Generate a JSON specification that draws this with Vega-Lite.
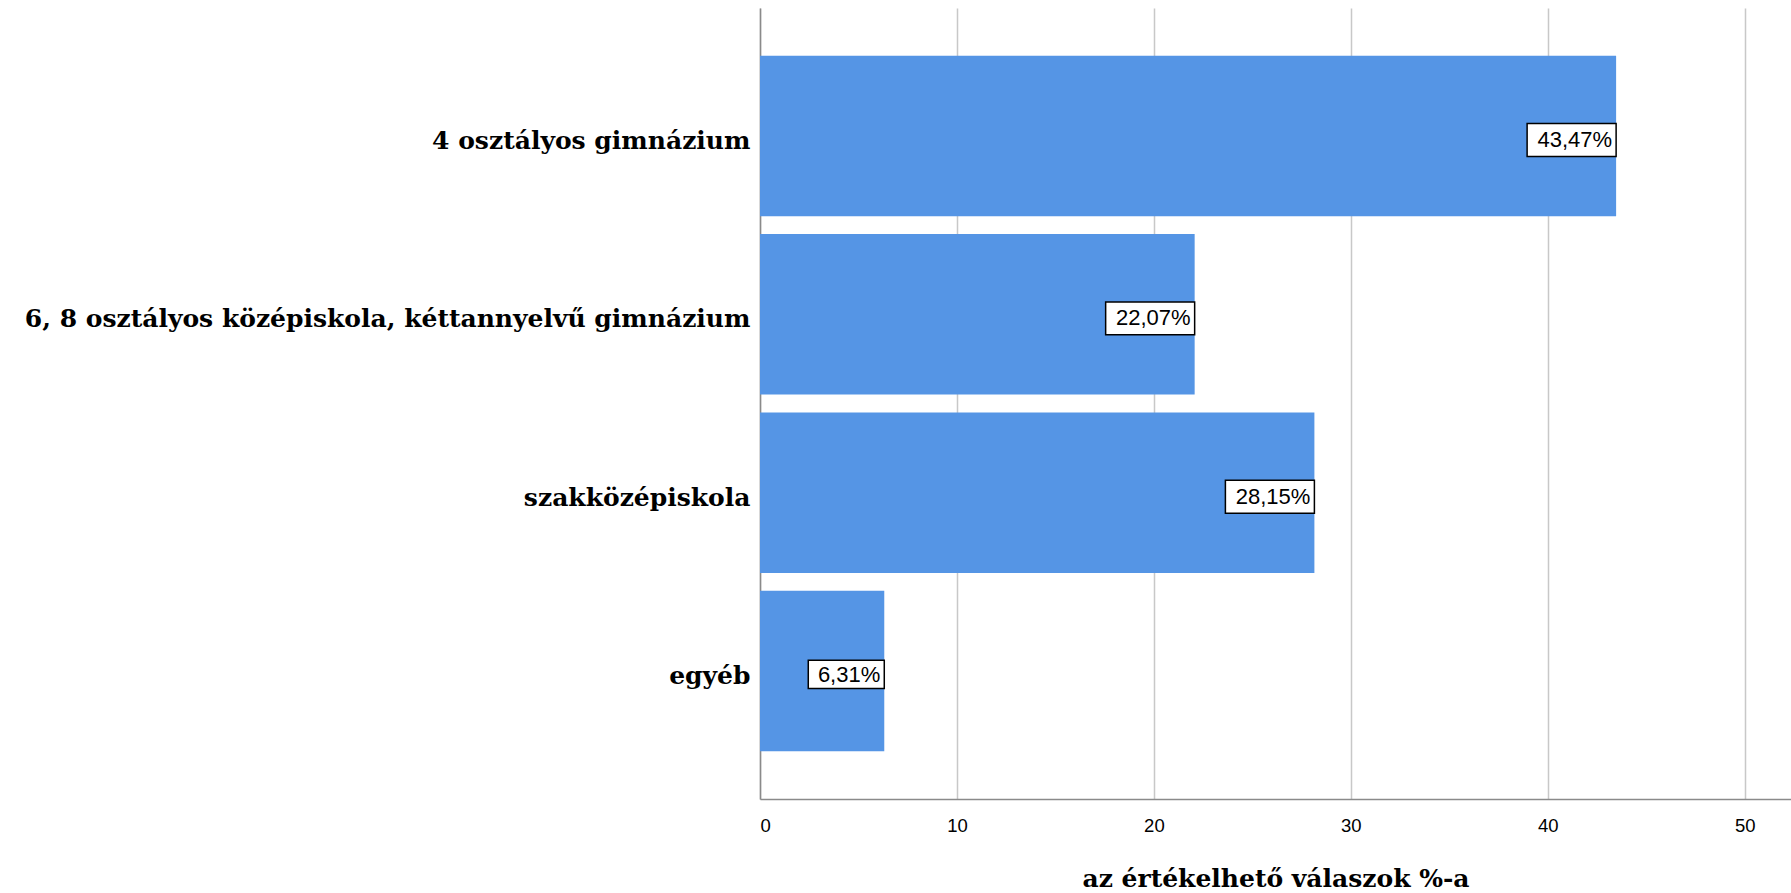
{
  "$schema": "https://vega.github.io/schema/vega-lite/v6.json",
  "autosize": "none",
  "width": 1031,
  "height": 791,
  "padding": {"left": 760, "top": 8, "right": 0, "bottom": 94},
  "background": "white",
  "data": {"values": [
    {"category": "4 osztályos gimnázium", "pct": 43.47, "label": "43,47%"},
    {"category": "6, 8 osztályos középiskola, kéttannyelvű gimnázium", "pct": 22.07, "label": "22,07%"},
    {"category": "szakközépiskola", "pct": 28.15, "label": "28,15%"},
    {"category": "egyéb", "pct": 6.31, "label": "6,31%"}
  ]},
  "encoding": {
    "y": {"field": "category", "type": "nominal", "sort": null,
      "scale": {"paddingInner": 0.1, "paddingOuter": 0.268},
      "axis": {"title": null, "ticks": false, "domain": true, "domainColor": "#8a8a8a", "domainWidth": 1.5,
        "labelFont": "DejaVu Serif", "labelFontWeight": "bold", "labelFontSize": 25, "labelColor": "#000000",
        "labelPadding": 10, "labelLimit": 1000, "labelOffset": 5}},
    "x": {"field": "pct", "type": "quantitative",
      "scale": {"domain": [0, 52.35], "nice": false, "zero": true},
      "axis": {"title": "az értékelhető válaszok %-a", "values": [0, 10, 20, 30, 40, 50], "format": "d",
        "grid": true, "gridColor": "#c8c8c8", "gridWidth": 1.5,
        "ticks": false, "domain": true, "domainColor": "#8a8a8a", "domainWidth": 1.5,
        "labelFont": "Liberation Sans", "labelFontSize": 18.5, "labelColor": "#000000", "labelPadding": 17,
        "titleFont": "DejaVu Serif", "titleFontWeight": "bold", "titleFontSize": 25, "titleColor": "#000000",
        "titlePadding": 32}}
  },
  "layer": [
    {"mark": {"type": "bar", "color": "#5595e5"}},
    {"mark": {"type": "point", "filled": true, "fill": "white", "stroke": "black", "strokeWidth": 1.5, "opacity": 1,
        "shape": "M-1,-0.14H0V0.23H-1Z"},
      "encoding": {"size": {"condition": {"test": "datum.pct < 10", "value": 23104}, "value": 31684}}},
    {"mark": {"type": "text", "align": "right", "baseline": "middle", "dx": -4, "dy": 4, "font": "Liberation Sans", "fontSize": 22, "color": "black"},
      "encoding": {"text": {"field": "label"}}}
  ],
  "config": {"view": {"stroke": null}}
}
